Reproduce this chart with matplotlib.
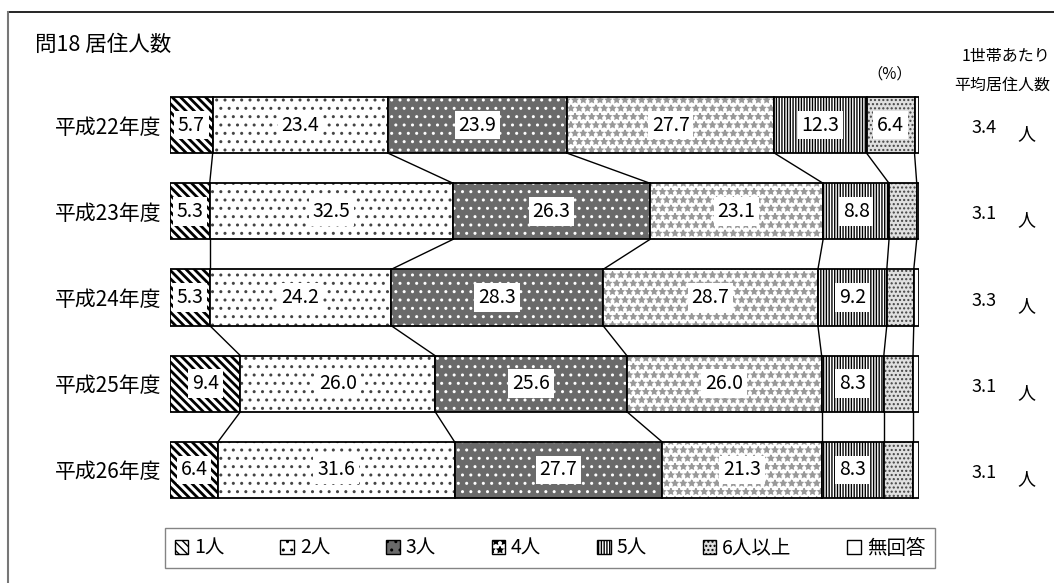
import matplotlib
matplotlib.use('Agg')
import matplotlib.pyplot as plt
from matplotlib.patches import Patch
from matplotlib.lines import Line2D
import numpy as np

plt.rcParams['font.family'] = ['Noto Sans CJK JP', 'DejaVu Sans']
plt.rcParams['hatch.linewidth'] = 1.0

# data
years = ['平成22年度', '平成23年度', '平成24年度', '平成25年度', '平成26年度']
categories = ['1人', '2人', '3人', '4人', '5人', '6人以上', '無回答']
one = [5.7, 5.3, 5.3, 9.4, 6.4]
two = [23.4, 32.5, 24.2, 26.0, 31.6]
three = [23.9, 26.3, 28.3, 25.6, 27.7]
four = [27.7, 23.1, 28.7, 26.0, 21.3]
five = [12.3, 8.8, 9.2, 8.3, 8.3]
six_plus = [6.4, 3.7, 3.6, 3.9, 3.9]
no_answer = [0.6, 0.3, 0.7, 0.8, 0.8]
avg_people = ['3.4', '3.1', '3.3', '3.1', '3.1']
# which 6+ values get a printed label
six_labeled = [True, False, False, False, False]

series = [one, two, three, four, five, six_plus, no_answer]

# style per category: facecolor, hatch colour, hatch, hatch linewidth
styles = [
    ('white', 'black', '\\\\\\\\', 2.0),
    ('white', '#444444', '..', 1.0),
    ('#6a6a6a', 'white', '..', 1.0),
    ('white', '#999999', '**', 1.0),
    ('white', 'black', '||||||', 1.0),
    ('#e0e0e0', '#444444', '....', 1.0),
    ('white', 'white', '', 1.0),
]

W, H = 1054, 583
fig = plt.figure(figsize=(W / 100, H / 100), dpi=100)

def px(x, y):
    return x / W, 1 - y / H

# outer frame (top and left only)
fig.add_artist(Line2D([8 / W, 1], [1 - 12 / H] * 2, color='black', lw=1.2))
fig.add_artist(Line2D([8 / W] * 2, [0, 1 - 12 / H], color='#777777', lw=1.5))

ax = fig.add_axes([170 / W, (H - 513) / H, 749 / W, 431 / H])
ax.set_xlim(0, 100)
ax.set_ylim(4.5, -0.5)
ypos = np.arange(len(years))
bh = 0.65

data = np.array(series)
cum = np.cumsum(data, axis=0)
left = cum - data

for k in range(len(categories)):
    fc, hc, hatch, hlw = styles[k]
    with plt.rc_context({'hatch.linewidth': hlw}):
        ax.barh(ypos, data[k], left=left[k], height=bh, color=fc,
                edgecolor=hc, hatch=hatch, linewidth=0)
    ax.barh(ypos, data[k], left=left[k], height=bh, fill=False,
            edgecolor='black', linewidth=1.3)

# connector lines between consecutive bars
for i in range(len(years) - 1):
    for k in range(len(categories) - 1):
        ax.plot([cum[k, i], cum[k, i + 1]], [i + bh / 2, i + 1 - bh / 2],
                color='black', lw=1.0)

# value labels
for k in range(6):
    for i in range(len(years)):
        if k == 5 and not six_labeled[i]:
            continue
        x = left[k, i] + data[k, i] / 2
        ax.text(x, i, f'{data[k, i]:.1f}', ha='center', va='center', fontsize=14,
                bbox=dict(boxstyle='square,pad=0.2', fc='white', ec='none'))

ax.set_yticks(ypos)
ax.set_yticklabels(years, fontsize=15)
ax.tick_params(axis='y', length=0, pad=6)
ax.set_xticks([])
for s in ax.spines.values():
    s.set_visible(False)

# averages on the right
for i, v in enumerate(avg_people):
    yc = 125 + i * 86.25
    fig.text(*px(984, yc + 3), v, ha='center', va='center', fontsize=13)
    fig.text(*px(1026, yc + 9), '人', ha='center', va='center', fontsize=13)

fig.text(*px(1050, 57), '1世帯あたり', ha='right', va='center', fontsize=11.5)
fig.text(*px(1050, 85), '平均居住人数', ha='right', va='center', fontsize=11.5)
fig.text(*px(890, 74), '（%）', ha='center', va='center', fontsize=11)
fig.text(*px(35, 45), '問18 居住人数', ha='left', va='center', fontsize=15.5)

# legend
handles = []
for k, cat in enumerate(categories):
    fc, hc, hatch, hlw = styles[k]
    handles.append(Patch(facecolor=fc, edgecolor='black', hatch=hatch, linewidth=1.0))
leg = fig.legend(handles, categories, ncol=7, mode='expand',
                 bbox_to_anchor=(165 / W, (H - 568) / H, 770 / W, 40 / H),
                 loc='center', fontsize=14, handlelength=0.7, handleheight=0.7,
                 handletextpad=0.3, borderpad=0.5, fancybox=False,
                 edgecolor='#666666', borderaxespad=0)
leg.get_frame().set_linewidth(1.0)

fig.savefig('out.png', dpi=100)
